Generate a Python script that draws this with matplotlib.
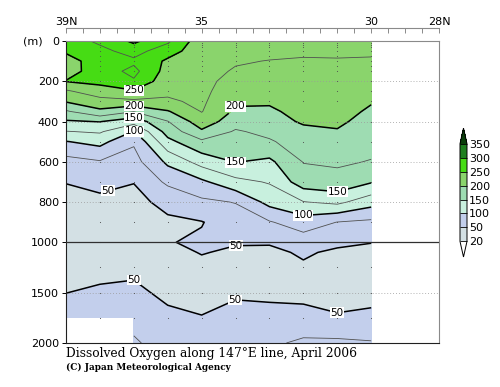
import numpy as np
import matplotlib.pyplot as plt

# Estaciones (latitud N) y profundidades estandar (m)
lats = [39, 38, 37, 36, 35, 34, 33, 32, 31, 30]
depths = [0, 50, 100, 150, 200, 250, 300, 350, 400, 450, 500,
          600, 700, 800, 900, 1000, 1100, 1250, 1500, 1750, 2000]

# Oxigeno disuelto (umol/kg), una lista por estacion
o2_39n = [262, 254, 238, 240, 251, 221, 202, 172, 147, 124, 99, 66, 50.5, 45, 42, 40, 40, 43, 49.8, 58, np.nan]
o2_38n = [280, 268, 265, 262, 256, 240, 215, 195, 151, 128, 108, 73, 55, 46, 42, 40, 40, 44, 53, 62, np.nan]
o2_37n = [305, 285, 270, 282, 272, 247, 220, 176, 135, 99, 78, 66, 50.5, 45, 41, 38, 37, 45, 55, 70, 77]
o2_36n = [280, 260, 246, 240, 234, 229, 222, 198, 174, 160, 143, 105, 80, 55, 47, 49, 44, 40, 45, 55, 68]
o2_35n = [234, 236, 238, 236, 234, 232, 229, 226, 214, 196, 170, 135, 95, 70, 49, 53, 51, 45, 42, 51, 62]
o2_34n = [240, 235, 228, 222, 214, 208, 204, 196, 186, 172, 165, 151, 118, 76, 62, 51.5, 47, 42, 46, 60, 70]
o2_33n = [238, 233, 224, 218, 212, 208, 203, 196, 190, 182, 172, 145, 127, 108, 73, 52, 45, 38, 45, 58, 70]
o2_32n = [236, 230, 222, 218, 216, 214, 212, 208, 203, 194, 188, 176, 163, 124, 88, 62, 53, 47, 45, 56, 80]
o2_31n = [240, 232, 222, 218, 215, 213, 212, 210, 205, 198, 190, 178, 168, 131, 74.5, 55, 46, 40, 42, 52, 80]
o2_30n = [240, 232, 220, 215, 212, 210, 202, 196, 190, 186, 182, 174, 152, 110, 70, 50.5, 45, 40, 44, 54, 77]

levels = [20, 50, 100, 150, 200, 250, 300, 350]
thin_levels = [75, 125, 175, 225, 275, 325]
sample_depths = [10, 20, 30, 50, 75, 100, 125, 150, 200, 250, 300, 400, 500,
                 600, 700, 800, 900, 1000, 1250, 1500, 1750]
grid_depths = [200, 400, 600, 800, 1500]
ytick_vals = [0, 200, 400, 600, 800, 1000, 1500, 2000]
top_labels = {39.0: '39N', 35.0: '35', 30.0: '30', 28.0: '28N'}

# posiciones de las etiquetas de contorno (lat, prof)
label_spots = [(37.0, 245), (37.0, 318), (37.0, 378), (37.0, 455), (37.8, 710),
               (34.0, 325), (34.0, 605), (31.0, 760), (32.0, 860), (34.0, 1025),
               (37.0, 1370), (34.0, 1590), (31.0, 1690)]

# colores: por debajo de 20, 7 intervalos, por encima de 350
fill_colors = ['#ffffff', '#d3e0e4', '#c3cfec', '#c8f0de', '#9edcb2',
               '#8ad46c', '#46dc14', '#1e7f1e', '#0a3f0a']


def fwd(d):
    d = np.asarray(d, dtype=float)
    return np.where(d <= 1000, d, 1000 + (d - 1000) * 0.5)


def inv(z):
    z = np.asarray(z, dtype=float)
    return np.where(z <= 1000, z, 1000 + (z - 1000) * 2.0)


Z = np.ma.masked_invalid(np.array([o2_39n, o2_38n, o2_37n, o2_36n, o2_35n,
                                   o2_34n, o2_33n, o2_32n, o2_31n, o2_30n]).T)

fig = plt.figure(figsize=(5, 3.87), dpi=100)
ax = fig.add_axes([0.132, 0.1137, 0.746, 0.7804])
ax.set_yscale('function', functions=(fwd, inv))

cf = ax.contourf(lats, depths, Z, levels=levels, colors=fill_colors, extend='both',
                 corner_mask=False)
thin = ax.contour(lats, depths, Z, levels=thin_levels, colors='#505050',
                  linewidths=0.6, corner_mask=False)
thick = ax.contour(lats, depths, Z, levels=levels[1:], colors='black',
                   linewidths=1.1, corner_mask=False)
labs = ax.clabel(thick, levels=[50, 100, 150, 200, 250], manual=label_spots,
                 fmt='%d', fontsize=7.5, inline=True, inline_spacing=1)
for t in labs:
    t.set_rotation(0)
    t.set_bbox(dict(facecolor='white', edgecolor='none', pad=0.3))

# puntos de muestreo
st, dp = np.meshgrid(lats[1:], sample_depths)
ax.scatter(st.ravel(), dp.ravel(), s=0.6, color='#505050', linewidths=0, zorder=3)

for g in grid_depths:
    ax.axhline(g, color='#9a9a9a', lw=0.6, ls=(0, (1, 2.5)), zorder=2)
ax.axhline(1000, color='#303030', lw=0.9, zorder=4)

ax.set_xlim(39, 28)
ax.set_ylim(2000, 0)
ax.set_xticks([])
ax.set_yticks(ytick_vals)
ax.set_yticklabels([str(v) for v in ytick_vals])
ax.yaxis.set_minor_locator(plt.NullLocator())
ax.tick_params(axis='y', direction='out', length=3, width=0.7, labelsize=8, pad=2)
for s in ['left', 'bottom']:
    ax.spines[s].set_color('#202020')
    ax.spines[s].set_linewidth(0.8)
for s in ['right', 'top']:
    ax.spines[s].set_color('#8a8a8a')
    ax.spines[s].set_linewidth(0.8)

# eje superior de latitud, separado del marco
sec = ax.secondary_xaxis('top')
sec.spines['top'].set_position(('outward', 9))
sec.spines['top'].set_color('#8a8a8a')
sec.spines['top'].set_linewidth(0.8)
tpos = np.arange(28, 39.01, 0.5)
sec.set_xticks(tpos)
sec.set_xticklabels([top_labels.get(float(v), '') for v in tpos])
sec.tick_params(direction='in', length=3.5, width=0.7, color='#8a8a8a', labelsize=8, pad=1)

fig.text(0.045, 1 - 41 / 387, '(m)', fontsize=8, va='center', ha='left')

# barra de color
cax = fig.add_axes([0.92, 0.336, 0.014, 0.333])
cb = fig.colorbar(cf, cax=cax, extendfrac=0.16, drawedges=True, ticks=levels)
cb.outline.set_linewidth(0.7)
cb.dividers.set_color('black')
cb.dividers.set_linewidth(0.6)
cax.tick_params(length=0, labelsize=8, pad=1.5)

fig.text(66 / 500, 1 - 353 / 387, 'Dissolved Oxygen along 147\u00b0E line, April 2006',
         family='DejaVu Serif', fontsize=8.8, va='center', ha='left')
fig.text(66 / 500, 1 - 367 / 387, '(C) Japan Meteorological Agency',
         family='DejaVu Serif', fontweight='bold', fontsize=6.4, va='center', ha='left')

fig.savefig('out.png', dpi=100)
